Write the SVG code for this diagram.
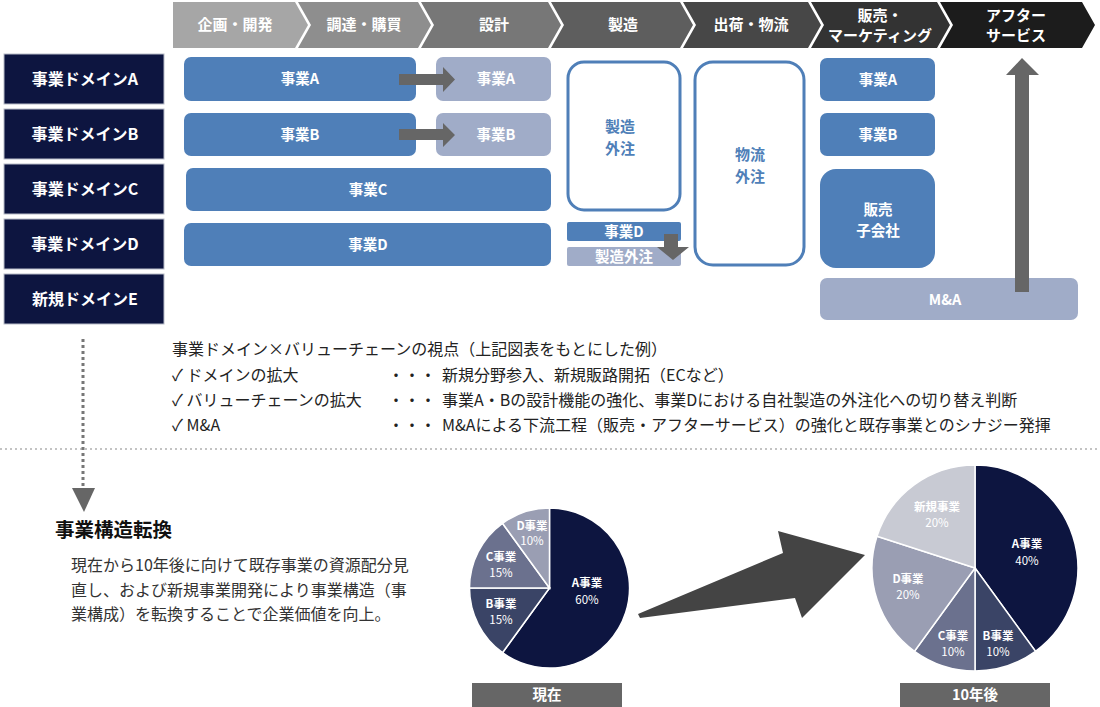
<svg xmlns="http://www.w3.org/2000/svg" width="1100" height="707" viewBox="0 0 1100 707">
<style>
text{font-family:"Noto Sans CJK JP","Noto Sans",sans-serif;}
.ch{fill:#fff;font-size:15px;font-weight:700;text-anchor:middle;}
.dm rect{fill:#0d1540;stroke:#b8bcc8;stroke-width:1;}
.dm text{fill:#fff;font-size:16px;font-weight:700;text-anchor:middle;}
.bz{fill:#4f7fb8;}
.lt{fill:#a0acc8;}
.wt{fill:#fff;font-size:14.5px;font-weight:700;text-anchor:middle;}
.ol{fill:#fff;stroke:#4f7fb8;stroke-width:3;}
.bt{fill:#4f7fb8;font-size:15px;font-weight:700;text-anchor:middle;}
.arr{fill:#666;}
.body{fill:#222;font-size:16px;}
.para{fill:#333;font-size:16px;}
.pl{fill:#fff;font-size:11.5px;font-weight:700;text-anchor:middle;}
.pp{fill:#fff;font-size:11.5px;text-anchor:middle;}
.sl{stroke:#fff;stroke-width:1.5;}
</style>

<g id="chevrons">
<polygon points="173,2 295,2 308,25 295,48 173,48" fill="#a6a6a6"/>
<polygon points="298,2 418,2 431,25 418,48 298,48 311,25" fill="#8e8e8e"/>
<polygon points="421,2 548,2 561,25 548,48 421,48 434,25" fill="#777777"/>
<polygon points="551,2 680,2 693,25 680,48 551,48 564,25" fill="#5e5e5e"/>
<polygon points="683,2 808,2 821,25 808,48 683,48 696,25" fill="#474747"/>
<polygon points="811,2 937,2 950,25 937,48 811,48 824,25" fill="#333333"/>
<polygon points="940,2 1082,2 1095,25 1082,48 940,48 953,25" fill="#1c1c1c"/>
<text class="ch" x="235" y="30">企画・開発</text>
<text class="ch" x="364" y="30">調達・購買</text>
<text class="ch" x="494" y="30">設計</text>
<text class="ch" x="623" y="30">製造</text>
<text class="ch" x="751" y="30">出荷・物流</text>
<text class="ch" x="880" y="21">販売・</text>
<text class="ch" x="880" y="41">マーケティング</text>
<text class="ch" x="1016" y="21">アフター</text>
<text class="ch" x="1016" y="41">サービス</text>
</g>

<g id="domainA" class="dm"><rect x="4" y="54" width="160" height="50"/><text x="85" y="85">事業ドメインA</text></g>
<g id="domainB" class="dm"><rect x="4" y="109" width="160" height="50"/><text x="85" y="140">事業ドメインB</text></g>
<g id="domainC" class="dm"><rect x="4" y="164" width="160" height="50"/><text x="85" y="195">事業ドメインC</text></g>
<g id="domainD" class="dm"><rect x="4" y="219" width="160" height="50"/><text x="85" y="250">事業ドメインD</text></g>
<g id="domainE" class="dm"><rect x="4" y="274" width="160" height="50"/><text x="85" y="305">新規ドメインE</text></g>

<g id="bizA"><rect class="bz" x="184" y="57" width="232" height="44" rx="7"/><text class="wt" x="300" y="84">事業A</text></g>
<g id="bizA2"><rect class="lt" x="436" y="57" width="115" height="44" rx="7"/><text class="wt" x="496" y="84">事業A</text></g>
<g id="bizB"><rect class="bz" x="184" y="113" width="232" height="43" rx="7"/><text class="wt" x="300" y="140">事業B</text></g>
<g id="bizB2"><rect class="lt" x="436" y="113" width="115" height="43" rx="7"/><text class="wt" x="496" y="140">事業B</text></g>
<g id="bizC"><rect class="bz" x="186" y="168" width="365" height="43" rx="7"/><text class="wt" x="368" y="195">事業C</text></g>
<g id="bizD"><rect class="bz" x="184" y="223" width="367" height="43" rx="7"/><text class="wt" x="368" y="250">事業D</text></g>

<g id="mfgOut"><rect class="ol" x="568" y="62" width="112" height="148" rx="16"/><text class="bt" x="620" y="132">製造</text><text class="bt" x="620" y="154">外注</text></g>
<g id="bizDsmall"><rect class="bz" x="567" y="222" width="114" height="19" rx="2"/><text class="wt" x="624" y="237">事業D</text></g>
<g id="mfgOutSmall"><rect class="lt" x="567" y="247" width="114" height="19" rx="2"/><text class="wt" x="624" y="262">製造外注</text></g>
<g id="logOut"><rect class="ol" x="695" y="62" width="109" height="203" rx="18"/><text class="bt" x="750" y="160">物流</text><text class="bt" x="750" y="182">外注</text></g>

<g id="salesA"><rect class="bz" x="820" y="58" width="115" height="43" rx="7"/><text class="wt" x="878" y="85">事業A</text></g>
<g id="salesB"><rect class="bz" x="820" y="113" width="115" height="43" rx="7"/><text class="wt" x="878" y="140">事業B</text></g>
<g id="salesSub"><rect class="bz" x="820" y="169" width="115" height="99" rx="16"/><text class="wt" x="878" y="215">販売</text><text class="wt" x="878" y="236">子会社</text></g>
<g id="ma"><rect class="lt" x="820" y="278" width="258" height="42" rx="7"/><text class="wt" x="945" y="305">M&amp;A</text></g>

<g id="connectors">
<path class="arr" d="M399,74 H443 V67 L455,79.5 L443,92 V85 H399 Z"/>
<path class="arr" d="M399,129 H443 V123 L455,135 L443,147 V140 H399 Z"/>
<path class="arr" d="M664,234 H678 V247 H689 L673,260 L657,247 H664 Z"/>
<path class="arr" d="M1015,292 V75 H1006 L1022,58 L1039,75 H1029 V292 Z"/>
<line x1="83" y1="339" x2="83" y2="487" stroke="#777" stroke-width="3" stroke-dasharray="3,3"/>
<polygon points="72,488 95,488 84,512" fill="#666"/>
<line x1="0" y1="449" x2="1100" y2="449" stroke="#888" stroke-width="1.2" stroke-dasharray="2,3"/>
<polygon points="638,614 783,553 778,531 865,555 802,618 795,598 640,618" fill="#444"/>
</g>

<g id="notes">
<text class="body" x="172" y="355">事業ドメイン×バリューチェーンの視点（上記図表をもとにした例）</text>
<text class="body" x="172" y="381">✓ ドメインの拡大</text>
<text class="body" x="388" y="381">・・・</text>
<text class="body" x="442" y="381">新規分野参入、新規販路開拓（ECなど）</text>
<text class="body" x="172" y="406">✓ バリューチェーンの拡大</text>
<text class="body" x="388" y="406">・・・</text>
<text class="body" x="442" y="406">事業A・Bの設計機能の強化、事業Dにおける自社製造の外注化への切り替え判断</text>
<text class="body" x="172" y="431">✓ M&amp;A</text>
<text class="body" x="388" y="431">・・・</text>
<text class="body" x="442" y="431">M&amp;Aによる下流工程（販売・アフターサービス）の強化と既存事業とのシナジー発揮</text>
</g>

<g id="transform">
<text x="55" y="537" font-size="19.5" font-weight="700" fill="#111">事業構造転換</text>
<text class="para" x="71" y="571">現在から10年後に向けて既存事業の資源配分見</text>
<text class="para" x="71" y="596">直し、および新規事業開発により事業構造（事</text>
<text class="para" x="71" y="620">業構成）を転換することで企業価値を向上。</text>
</g>

<g id="pieNow">
<path d="M549.5,588 L549.5,508 A80,80 0 1 1 502.5,652.7 Z" fill="#0d1540" class="sl"/>
<path d="M549.5,588 L502.5,652.7 A80,80 0 0 1 469.5,588 Z" fill="#3a4466" class="sl"/>
<path d="M549.5,588 L469.5,588 A80,80 0 0 1 502.5,523.3 Z" fill="#6b718e" class="sl"/>
<path d="M549.5,588 L502.5,523.3 A80,80 0 0 1 549.5,508 Z" fill="#9a9eb3" class="sl"/>
<text class="pl" x="587" y="587">A事業</text><text class="pp" x="587" y="604">60%</text>
<text class="pl" x="501" y="608">B事業</text><text class="pp" x="501" y="624">15%</text>
<text class="pl" x="501" y="561">C事業</text><text class="pp" x="501" y="577">15%</text>
<text class="pl" x="532" y="530">D事業</text><text class="pp" x="532" y="545">10%</text>
<rect x="472" y="683" width="150" height="24" fill="#666"/>
<text class="wt" x="547" y="700">現在</text>
</g>

<g id="pie10y">
<path d="M975,568 L975,465 A103,103 0 0 1 1035.5,651.3 Z" fill="#0d1540" class="sl"/>
<path d="M975,568 L1035.5,651.3 A103,103 0 0 1 975,671 Z" fill="#3a4466" class="sl"/>
<path d="M975,568 L975,671 A103,103 0 0 1 914.5,651.3 Z" fill="#6b718e" class="sl"/>
<path d="M975,568 L914.5,651.3 A103,103 0 0 1 877,536.2 Z" fill="#9a9eb3" class="sl"/>
<path d="M975,568 L877,536.2 A103,103 0 0 1 975,465 Z" fill="#c8cad3" class="sl"/>
<text class="pl" x="937" y="511">新規事業</text><text class="pp" x="937" y="527">20%</text>
<text class="pl" x="1027" y="548">A事業</text><text class="pp" x="1027" y="565">40%</text>
<text class="pl" x="908" y="583">D事業</text><text class="pp" x="908" y="599">20%</text>
<text class="pl" x="953" y="640">C事業</text><text class="pp" x="953" y="656">10%</text>
<text class="pl" x="998" y="640">B事業</text><text class="pp" x="998" y="656">10%</text>
<rect x="900" y="683" width="150" height="24" fill="#666"/>
<text class="wt" x="975" y="700">10年後</text>
</g>
</svg>
